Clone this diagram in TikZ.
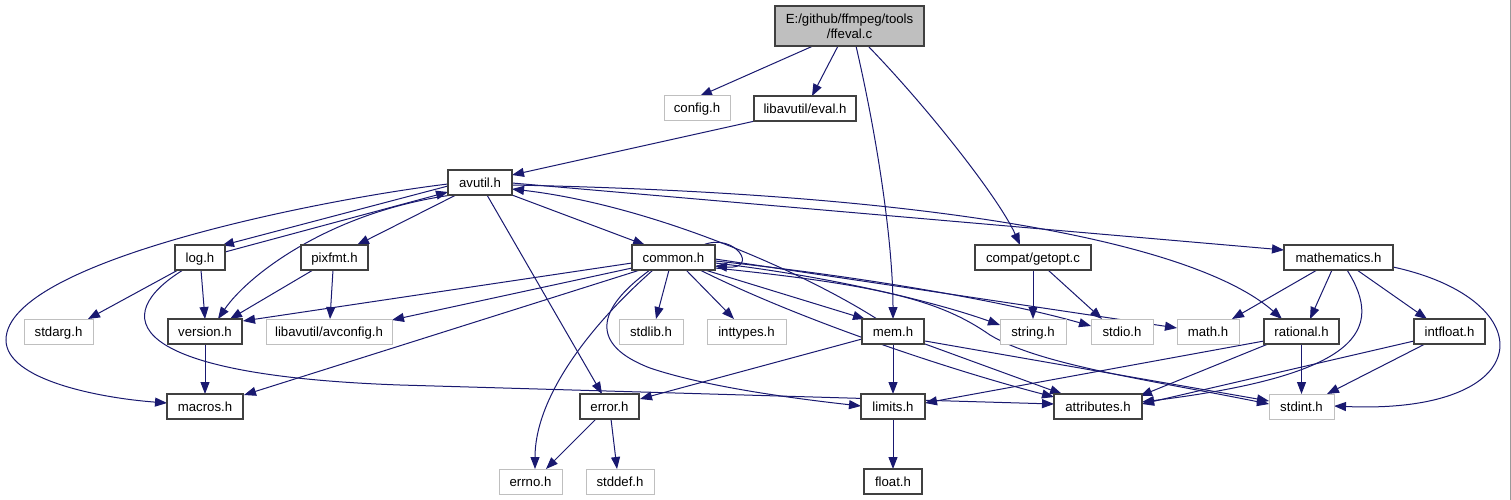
\documentclass[tikz,border=0pt]{standalone}
\usepackage{fontspec}
\setmainfont{Liberation Sans}
\usetikzlibrary{arrows.meta,calc}
\definecolor{edgec}{HTML}{191970}
\definecolor{boxdark}{HTML}{404040}
\definecolor{boxgrey}{HTML}{BFBFBF}
\definecolor{rootfill}{HTML}{BFBFBF}
\pgfdeclarelayer{bg}
\pgfsetlayers{bg,main}
\begin{document}
\begin{tikzpicture}[x=1pt,y=-1pt,
  every node/.style={font=\fontsize{13.2}{15}\selectfont, inner sep=0pt, minimum height=25pt},
  filebox/.style={text height=10.7pt, text depth=1.3pt},
  hbox/.style={filebox, draw=boxdark, line width=1.2pt, fill=white},
  gbox/.style={filebox, draw=boxgrey, line width=1pt, fill=white},
  rootbox/.style={draw=boxdark, line width=1.2pt, fill=rootfill, align=center, minimum height=40pt},
  dep/.style={draw=edgec, line width=1pt, -{Triangle[length=12pt,width=9pt]}},
]
\useasboundingbox (0,0) rectangle (1511,500);

% nodes
\node[rootbox, minimum width=149pt] (root) at (849.5,26) {E:/github/ffmpeg/tools\\/ffeval.c};
\node[gbox, minimum width=66pt] (config) at (697,108) {config.h};
\node[hbox, minimum width=102pt] (eval) at (805,108.5) {libavutil/eval.h};
\node[hbox, minimum width=64pt] (avutil) at (480,182.5) {avutil.h};
\node[hbox, minimum width=50pt] (log) at (200,257.5) {log.h};
\node[hbox, minimum width=67pt] (pixfmt) at (334.5,257.5) {pixfmt.h};
\node[hbox, minimum width=83pt] (common) at (673.5,257.5) {common.h};
\node[hbox, minimum width=116pt] (getopt) at (1033,257.5) {compat/getopt.c};
\node[hbox, minimum width=109pt] (mathematics) at (1338.5,257.5) {mathematics.h};
\node[gbox, minimum width=69pt] (stdarg) at (58.5,331.5) {stdarg.h};
\node[hbox, minimum width=74pt] (version) at (205,331.5) {version.h};
\node[gbox, minimum width=126pt] (avconfig) at (329,331.5) {libavutil/avconfig.h};
\node[gbox, minimum width=64pt] (stdlib) at (651,331.5) {stdlib.h};
\node[gbox, minimum width=79pt] (inttypes) at (746.5,331.5) {inttypes.h};
\node[hbox, minimum width=62pt] (mem) at (893,331.5) {mem.h};
\node[gbox, minimum width=66pt] (string) at (1033,331.5) {string.h};
\node[gbox, minimum width=62pt] (stdio) at (1122,331.5) {stdio.h};
\node[gbox, minimum width=62pt] (math) at (1208,331.5) {math.h};
\node[hbox, minimum width=75pt] (rational) at (1301.5,331.5) {rational.h};
\node[hbox, minimum width=71pt] (intfloat) at (1449.5,331.5) {intfloat.h};
\node[hbox, minimum width=76pt] (macros) at (205,406.5) {macros.h};
\node[hbox, minimum width=59pt] (error) at (609.5,406.5) {error.h};
\node[hbox, minimum width=64pt] (limits) at (893,406.5) {limits.h};
\node[hbox, minimum width=88pt] (attributes) at (1098,406.5) {attributes.h};
\node[gbox, minimum width=65pt] (stdint) at (1301.5,406.5) {stdint.h};
\node[gbox, minimum width=63pt] (errno) at (530.5,481.5) {errno.h};
\node[gbox, minimum width=68pt] (stddef) at (620,481.5) {stddef.h};
\node[hbox, minimum width=58pt] (float) at (893,481.5) {float.h};

\begin{pgfonlayer}{bg}
\fill[white] (0,0) rectangle (1511,500);
\draw[boxgrey!80!black, line width=1pt] (1510.5,0) -- (1510.5,500);
% root
\draw[dep] ($(root)+(-36.5,20)$) -- ($(config)+(3,-12)$);
\draw[dep] ($(root)+(-11.5,20)$) -- ($(eval)+(7,-12.5)$);
\draw[dep] ($(root)+(6.5,20)$) .. controls (880,150) and (893,250) .. ($(mem)+(0,-12.5)$);
\draw[dep] ($(root)+(18.5,20)$) .. controls (930,110) and (1000,200) .. ($(getopt)+(-13,-12.5)$);
% eval
\draw[dep] ($(eval)+(-50,12.5)$) -- ($(avutil)+(32,-7.5)$);
% avutil
\draw[dep] ($(avutil)+(-32,3.5)$) -- ($(log)+(22,-12)$);
\draw[dep] ($(log)+(25,-5.5)$) -- ($(avutil)+(-32,9.5)$);
\draw[dep] ($(avutil)+(-24,12.5)$) -- ($(pixfmt)+(22.5,-12.5)$);
\draw[dep] ($(avutil)+(-28,12.5)$) .. controls (330,212) and (248,275) .. ($(version)+(13,-12.5)$);
\draw[dep] ($(avutil)+(-32,1.5)$) .. controls (330,198) and (6,260) .. (6,340) .. controls (6,380) and (100,398) .. ($(macros)+(-38,-3.5)$);
\draw[dep] ($(avutil)+(32,12.5)$) -- ($(common)+(-28.5,-12.5)$);
\draw[dep] ($(avutil)+(7,12.5)$) -- ($(error)+(-7.5,-12.5)$);
\draw[dep] ($(avutil)+(32,0.5)$) -- ($(mathematics)+(-54.5,-7.5)$);
\draw[dep] ($(avutil)+(32,2.5)$) .. controls (1000,195) and (1210,255) .. ($(rational)+(-19.5,-12.5)$);
\draw[dep] ($(mem)+(-16,-12.5)$) .. controls (800,270) and (650,205) .. ($(avutil)+(32,6.5)$);
% log
\draw[dep] ($(log)+(-22,12.5)$) -- ($(stdarg)+(29.5,-12.5)$);
\draw[dep] ($(log)+(1,12.5)$) -- ($(version)+(0,-12.5)$);
\draw[dep] ($(log)+(-17,12.5)$) .. controls (110,315) and (120,375) .. (400,385) -- ($(attributes)+(-44,-2.5)$);
% pixfmt
\draw[dep] ($(pixfmt)+(-21.5,12.5)$) -- ($(version)+(25,-12.5)$);
\draw[dep] ($(pixfmt)+(-1.5,12.5)$) -- ($(avconfig)+(1,-12.5)$);
% common
\draw[dep] ($(common)+(29.5,-12.5)$) .. controls (735,232) and (760,270) .. ($(common)+(41.5,8.5)$);
\draw[dep] ($(common)+(-41.5,5.5)$) -- ($(version)+(38,-10.5)$);
\draw[dep] ($(common)+(-41.5,10.5)$) -- ($(avconfig)+(63,-11.5)$);
\draw[dep] ($(common)+(-33.5,12.5)$) -- ($(macros)+(39,-11.5)$);
\draw[dep] ($(common)+(-20.5,12.5)$) .. controls (585,330) and (535,400) .. ($(errno)+(4.5,-12.5)$);
\draw[dep] ($(common)+(-23.5,12.5)$) .. controls (595,310) and (590,345) .. (650,368) .. controls (700,385) and (780,397) .. ($(limits)+(-32,-0.5)$);
\draw[dep] ($(common)+(-4.5,12.5)$) -- ($(stdlib)+(5,-12.5)$);
\draw[dep] ($(common)+(12.5,12.5)$) -- ($(inttypes)+(-12.5,-12.5)$);
\draw[dep] ($(common)+(31.5,12.5)$) -- ($(mem)+(-28,-12.5)$);
\draw[dep] ($(common)+(26.5,12.5)$) .. controls (800,320) and (950,370) .. ($(attributes)+(-44,-9.5)$);
\draw[dep] ($(common)+(41.5,5.5)$) .. controls (820,275) and (930,300) .. ($(string)+(-33,-6.5)$);
\draw[dep] ($(common)+(41.5,3.5)$) .. controls (850,275) and (1000,300) .. ($(stdio)+(-31,-5.5)$);
\draw[dep] ($(common)+(41.5,1.5)$) -- ($(math)+(-31,-3.5)$);
\draw[dep] ($(common)+(41.5,10.5)$) .. controls (880,285) and (940,300) .. (990,335) .. controls (1040,365) and (1150,380) .. ($(stdint)+(-32.5,-2.5)$);
% mem
\draw[dep] ($(mem)+(-31,7.5)$) -- ($(error)+(30.5,-7.5)$);
\draw[dep] ($(mem)+(0,12.5)$) -- ($(limits)+(0,-12.5)$);
\draw[dep] ($(mem)+(32,12.5)$) -- ($(attributes)+(-36,-12.5)$);
\draw[dep] ($(mem)+(32,9.5)$) -- ($(stdint)+(-32.5,-5.5)$);
% error, limits, version
\draw[dep] ($(error)+(-13.5,12.5)$) -- ($(errno)+(15.5,-12.5)$);
\draw[dep] ($(error)+(1.5,12.5)$) -- ($(stddef)+(-3,-12.5)$);
\draw[dep] ($(limits)+(0,12.5)$) -- ($(float)+(0,-12.5)$);
\draw[dep] ($(version)+(0,12.5)$) -- ($(macros)+(0,-12.5)$);
% getopt
\draw[dep] ($(getopt)+(0,12.5)$) -- ($(string)+(0,-12.5)$);
\draw[dep] ($(getopt)+(15,12.5)$) -- ($(stdio)+(-20,-12.5)$);
% mathematics
\draw[dep] ($(mathematics)+(-21.5,12.5)$) -- ($(math)+(24,-12.5)$);
\draw[dep] ($(mathematics)+(-6.5,12.5)$) -- ($(rational)+(8.5,-12.5)$);
\draw[dep] ($(mathematics)+(8.5,12.5)$) .. controls (1385,330) and (1360,375) .. ($(attributes)+(44,-4.5)$);
\draw[dep] ($(mathematics)+(18.5,12.5)$) -- ($(intfloat)+(-22.5,-12.5)$);
\draw[dep] ($(mathematics)+(54.5,9.5)$) .. controls (1545,300) and (1540,415) .. ($(stdint)+(32.5,-0.5)$);
% rational
\draw[dep] ($(rational)+(0,12.5)$) -- ($(stdint)+(0,-12.5)$);
\draw[dep] ($(rational)+(-33.5,12.5)$) -- ($(attributes)+(42,-10.5)$);
\draw[dep] ($(rational)+(-37.5,9.5)$) -- ($(limits)+(32,-3.5)$);
% intfloat
\draw[dep] ($(intfloat)+(-24.5,12.5)$) -- ($(stdint)+(25.5,-12.5)$);
\draw[dep] ($(intfloat)+(-35.5,9.5)$) -- ($(attributes)+(44,-2.5)$);
\end{pgfonlayer}
\end{tikzpicture}
\end{document}
